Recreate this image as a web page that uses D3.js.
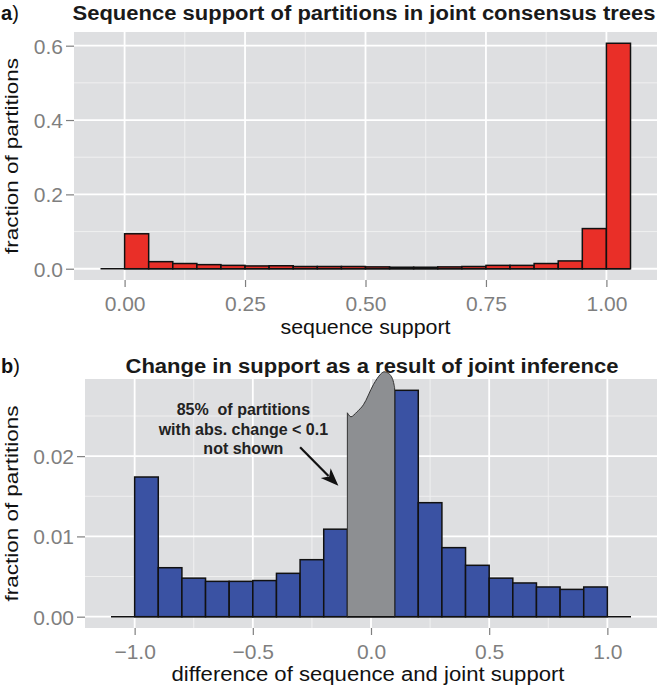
<!DOCTYPE html>
<html>
<head>
<meta charset="utf-8">
<script src="https://cdn.jsdelivr.net/npm/d3@7"></script>
<style>
  body { margin: 0; background: #fff; }
  svg { display: block; font-family: "Liberation Sans", Arial, Helvetica, sans-serif; }
  .tick text { fill: #7f7f7f; font-size: 21px; }
  .tick line { stroke: #7f7f7f; stroke-width: 1.2; }
</style>
</head>
<body>
<svg id="chart" width="660" height="687"></svg>
<script>
// panel a: bin lower edges (width 0.05) and fraction of partitions
const seqBins = [-0.05, 0, 0.05, 0.1, 0.15, 0.2, 0.25, 0.3, 0.35, 0.4, 0.45,
                 0.5, 0.55, 0.6, 0.65, 0.7, 0.75, 0.8, 0.85, 0.9, 0.95, 1.0];
const seqValues = [0, 0.094, 0.019, 0.014, 0.011, 0.009, 0.0075, 0.008, 0.006, 0.006, 0.006,
                   0.005, 0.004, 0.004, 0.005, 0.006, 0.009, 0.009, 0.014, 0.021, 0.108, 0.6065];
const seqXTicks = [0, 0.25, 0.5, 0.75, 1];
const seqYTicks = [0, 0.2, 0.4, 0.6];

// panel b: bin lower edges (width 0.1); null = |change| < 0.1, not shown
const diffBins = [-1.1, -1.0, -0.9, -0.8, -0.7, -0.6, -0.5, -0.4, -0.3, -0.2, -0.1,
                  0, 0.1, 0.2, 0.3, 0.4, 0.5, 0.6, 0.7, 0.8, 0.9, 1.0];
const diffValues = [0, 0.0174, 0.0061, 0.0048, 0.0044, 0.0044, 0.0045, 0.0054, 0.0071, 0.0109, null,
                    null, 0.0282, 0.0142, 0.0086, 0.0064, 0.0048, 0.0042, 0.0037, 0.0034, 0.0037, 0];
const diffXTicks = [-1, -0.5, 0, 0.5, 1];
const diffYTicks = [0, 0.01, 0.02];

// the grey "cut off" blob covering -0.1..0.1
const blobX = [-0.1, -0.1, -0.085, -0.06, -0.032, 0.01, 0.04, 0.055, 0.075, 0.09, 0.1, 0.1];
const blobY = [0, 0.0254, 0.0249, 0.0255, 0.0264, 0.0289, 0.0302, 0.0305, 0.0303, 0.0297, 0.0285, 0];

const noteLines = ["85%  of partitions", "with abs. change < 0.1", "not shown"];

const svg = d3.select('#chart');

// ggplot style 5% expansion
const expand = ext => { const r = ext[1] - ext[0]; return [ext[0] - 0.05 * r, ext[1] + 0.05 * r]; };

function panel(opts) {
  const { left, right, top, bottom, bins, width, values, xTicks, yTicks, xFmt, yFmt, fill } = opts;
  const x = d3.scaleLinear()
    .domain(expand([bins[0], bins[bins.length - 1] + width]))
    .range([left, right]);
  const y = d3.scaleLinear()
    .domain(expand([0, d3.max(values)]))
    .range([bottom, top]);

  const g = svg.append('g');

  g.append('rect')
    .attr('x', left).attr('y', top)
    .attr('width', right - left).attr('height', bottom - top)
    .attr('fill', '#dedfe1');

  // minor grid halfway between majors
  const step = xTicks[1] - xTicks[0];
  const xMinor = d3.pairs(xTicks).map(p => (p[0] + p[1]) / 2)
    .concat([xTicks[0] - step / 2, xTicks[xTicks.length - 1] + step / 2])
    .filter(v => x(v) > left && x(v) < right);
  const yMinor = d3.pairs(yTicks).map(p => (p[0] + p[1]) / 2)
    .concat([yTicks[yTicks.length - 1] + (yTicks[1] - yTicks[0]) / 2])
    .filter(v => y(v) > top);

  g.selectAll('.vminor').data(xMinor).enter().append('line')
    .attr('x1', d => x(d)).attr('x2', d => x(d))
    .attr('y1', top).attr('y2', bottom)
    .attr('stroke', '#f2f2f2').attr('stroke-width', 0.9);
  g.selectAll('.hminor').data(yMinor).enter().append('line')
    .attr('x1', left).attr('x2', right)
    .attr('y1', d => y(d)).attr('y2', d => y(d))
    .attr('stroke', '#f2f2f2').attr('stroke-width', 0.9);
  g.selectAll('.vmajor').data(xTicks).enter().append('line')
    .attr('x1', d => x(d)).attr('x2', d => x(d))
    .attr('y1', top).attr('y2', bottom)
    .attr('stroke', '#fff').attr('stroke-width', 1.8);
  g.selectAll('.hmajor').data(yTicks).enter().append('line')
    .attr('x1', left).attr('x2', right)
    .attr('y1', d => y(d)).attr('y2', d => y(d))
    .attr('stroke', '#fff').attr('stroke-width', 1.8);

  // empty bins show up as a flat black line along zero
  g.append('line')
    .attr('x1', x(bins[0])).attr('x2', x(bins[bins.length - 1] + width))
    .attr('y1', y(0)).attr('y2', y(0))
    .attr('stroke', '#111').attr('stroke-width', 1.6);

  const data = bins.map((b, i) => ({ x0: b, x1: b + width, v: values[i] }))
    .filter(d => d.v);

  g.selectAll('.bar').data(data).enter().append('rect')
    .attr('x', d => x(d.x0))
    .attr('y', d => y(d.v))
    .attr('width', d => x(d.x1) - x(d.x0))
    .attr('height', d => y(0) - y(d.v))
    .attr('fill', fill)
    .attr('stroke', '#111')
    .attr('stroke-width', 1.5);

  const xAxis = g.append('g')
    .attr('transform', `translate(0,${bottom})`)
    .call(d3.axisBottom(x).tickValues(xTicks).tickFormat(d3.format(xFmt)).tickSize(7).tickPadding(5));
  const yAxis = g.append('g')
    .attr('transform', `translate(${left},0)`)
    .call(d3.axisLeft(y).tickValues(yTicks).tickFormat(d3.format(yFmt)).tickSize(8).tickPadding(3));
  xAxis.select('.domain').remove();
  yAxis.select('.domain').remove();
  xAxis.selectAll('text').attr('dy', '0.9em');
  yAxis.selectAll('text').attr('dy', '0.36em');

  return { g, x, y };
}

const pa = panel({
  left: 74, right: 657, top: 32, bottom: 280,
  bins: seqBins, width: 0.05, values: seqValues,
  xTicks: seqXTicks, yTicks: seqYTicks, xFmt: '.2f', yFmt: '.1f', fill: '#e92f28'
});

const pb = panel({
  left: 85, right: 657, top: 379, bottom: 628,
  bins: diffBins, width: 0.1, values: diffValues,
  xTicks: diffXTicks, yTicks: diffYTicks, xFmt: '.1f', yFmt: '.2f', fill: '#3a52a3'
});

// grey blob drawn in place of the hidden middle bins
const blobLine = d3.line()
  .x(d => pb.x(d[0]))
  .y(d => pb.y(d[1]))
  .curve(d3.curveCatmullRom);
const blobPts = blobX.map((v, i) => [v, blobY[i]]);
pb.g.append('path')
  .attr('d', `M${pb.x(blobPts[0][0])},${pb.y(blobPts[0][1])}`
    + blobLine(blobPts.slice(1, 11)).replace(/^M/, 'L')
    + `L${pb.x(blobPts[11][0])},${pb.y(blobPts[11][1])}Z`)
  .attr('fill', '#8d8f92')
  .attr('stroke', '#333')
  .attr('stroke-width', 1);
pb.g.append('line')
  .attr('x1', pb.x(-0.1)).attr('x2', pb.x(0.1))
  .attr('y1', pb.y(0)).attr('y2', pb.y(0))
  .attr('stroke', '#111').attr('stroke-width', 1.6);

// annotation
pb.g.append('text')
  .attr('text-anchor', 'middle')
  .attr('font-weight', 'bold')
  .attr('font-size', 16)
  .attr('fill', '#222')
  .style('white-space', 'pre')
  .selectAll('tspan').data(noteLines).enter().append('tspan')
    .attr('x', pb.x(-0.54))
    .attr('y', (d, i) => pb.y(0.0251) + i * 19.5)
    .text(d => d);

const a0 = [pb.x(-0.30), pb.y(0.0211)], a1 = [pb.x(-0.138), pb.y(0.0163)];
const ang = Math.atan2(a1[1] - a0[1], a1[0] - a0[0]);
const headLen = 18, headW = 7;
const base = [a1[0] - headLen * Math.cos(ang), a1[1] - headLen * Math.sin(ang)];
pb.g.append('line')
  .attr('x1', a0[0]).attr('y1', a0[1])
  .attr('x2', base[0] + 4 * Math.cos(ang)).attr('y2', base[1] + 4 * Math.sin(ang))
  .attr('stroke', '#111').attr('stroke-width', 2.2);
pb.g.append('path')
  .attr('d', `M${a1[0]},${a1[1]}`
    + `L${base[0] - headW * Math.sin(ang)},${base[1] + headW * Math.cos(ang)}`
    + `L${base[0] + 5 * Math.cos(ang)},${base[1] + 5 * Math.sin(ang)}`
    + `L${base[0] + headW * Math.sin(ang)},${base[1] - headW * Math.cos(ang)}Z`)
  .attr('fill', '#111');

// titles and labels (text in the original is a bit wider than Arial, so fix lengths)
function title(txt, letter, y, cx, len) {
  const t = svg.append('text').attr('x', 1).attr('y', y).attr('font-size', 20).attr('fill', '#111');
  t.append('tspan').attr('font-weight', 'bold').text(letter);
  t.append('tspan').text(')');
  svg.append('text')
    .attr('x', cx).attr('y', y)
    .attr('text-anchor', 'middle')
    .attr('font-weight', 'bold')
    .attr('font-size', 20)
    .attr('fill', '#1a1a1a')
    .attr('textLength', len)
    .attr('lengthAdjust', 'spacingAndGlyphs')
    .text(txt);
}
title('Sequence support of partitions in joint consensus trees', 'a', 20, 364, 583);
title('Change in support as a result of joint inference', 'b', 373, 372, 493);

function axisTitle(txt, x, y, rotate, len, size) {
  svg.append('text')
    .attr('transform', `translate(${x},${y})` + (rotate ? ' rotate(-90)' : ''))
    .attr('text-anchor', 'middle')
    .attr('font-size', size)
    .attr('fill', '#111')
    .attr('textLength', len)
    .attr('lengthAdjust', 'spacingAndGlyphs')
    .text(txt);
}
axisTitle('sequence support', (74 + 657) / 2, 334, false, 170, 20);
axisTitle('difference of sequence and joint support', 368, 681, false, 393, 20);
axisTitle('fraction of partitions', 18, (32 + 280) / 2, true, 196, 18);
axisTitle('fraction of partitions', 18, (379 + 628) / 2, true, 196, 18);
</script>
</body>
</html>
